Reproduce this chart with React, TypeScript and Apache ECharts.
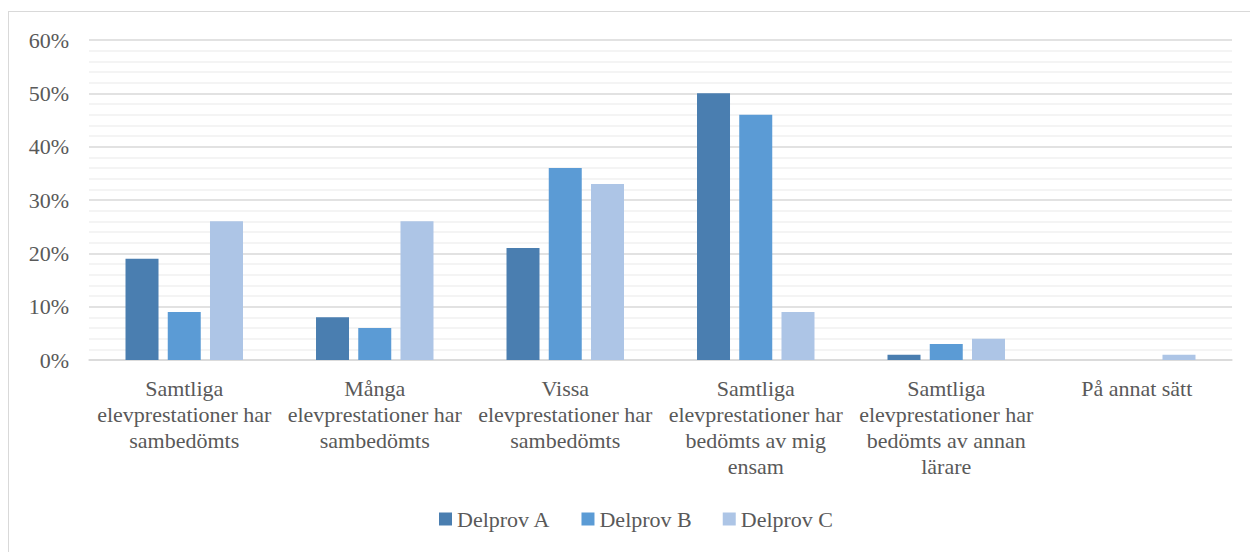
import React, { useEffect, useRef } from "react";
import * as echarts from "echarts";

const categories = [
  "Samtliga\nelevprestationer har\nsambedömts",
  "Många\nelevprestationer har\nsambedömts",
  "Vissa\nelevprestationer har\nsambedömts",
  "Samtliga\nelevprestationer har\nbedömts av mig\nensam",
  "Samtliga\nelevprestationer har\nbedömts av annan\nlärare",
  "På annat sätt",
];
const seriesNames = ["Delprov A", "Delprov B", "Delprov C"];
const delprovA = [19, 8, 21, 50, 1, 0];
const delprovB = [9, 6, 36, 46, 3, 0];
const delprovC = [26, 26, 33, 9, 4, 1];
const colors = ["#4a7eb0", "#5b9bd5", "#adc5e6"];

const FONT = "Liberation Serif";
const TEXT = "#595959";

export default function App() {
  const ref = useRef<HTMLDivElement>(null);
  useEffect(() => {
    if (!ref.current) return;
    const chart = echarts.init(ref.current, undefined, { renderer: "svg" });
    const data = [delprovA, delprovB, delprovC];
    chart.setOption({
      animation: false,
      textStyle: { fontFamily: FONT },
      grid: { left: 89, right: 18, top: 40, bottom: 192, containLabel: false },
      legend: {
        top: 508,
        left: 439,
        padding: 0,
        itemWidth: 13,
        itemHeight: 13,
        itemGap: 31,
        icon: "rect",
        data: seriesNames,
        textStyle: { fontFamily: FONT, fontSize: 22, color: TEXT, width: 98 },
      },
      xAxis: {
        type: "category",
        data: categories,
        axisTick: { show: false },
        axisLine: { lineStyle: { color: "#d9d9d9", width: 1.5 } },
        axisLabel: {
          interval: 0,
          fontFamily: FONT,
          fontSize: 22,
          color: TEXT,
          lineHeight: 26,
          margin: 15,
          verticalAlign: "top",
        },
      },
      yAxis: {
        type: "value",
        min: 0,
        max: 60,
        interval: 10,
        axisLine: { show: false },
        axisTick: { show: false },
        axisLabel: {
          formatter: "{value}%",
          fontFamily: FONT,
          fontSize: 22,
          color: TEXT,
          margin: 20,
        },
        splitLine: { lineStyle: { color: "#d9d9d9", width: 1.5 } },
        minorTick: { show: false, splitNumber: 5 },
        minorSplitLine: { show: true, lineStyle: { color: "#f0f0f0", width: 1.5 } },
      },
      series: seriesNames.map((name, i) => ({
        name,
        type: "bar",
        data: data[i],
        barWidth: 33,
        barGap: "28%",
        itemStyle: { color: colors[i] },
      })),
    });
    return () => chart.dispose();
  }, []);

  return (
    <div
      style={{
        position: "fixed",
        left: 0,
        top: 0,
        width: 1250,
        height: 552,
        overflow: "hidden",
        background: "#fff",
      }}
    >
      <div
        style={{
          position: "absolute",
          left: 8,
          top: 11,
          width: 1270,
          height: 570,
          border: "1px solid #d9d9d9",
        }}
      />
      <div ref={ref} style={{ position: "absolute", left: 0, top: 0, width: 1250, height: 552 }} />
    </div>
  );
}
